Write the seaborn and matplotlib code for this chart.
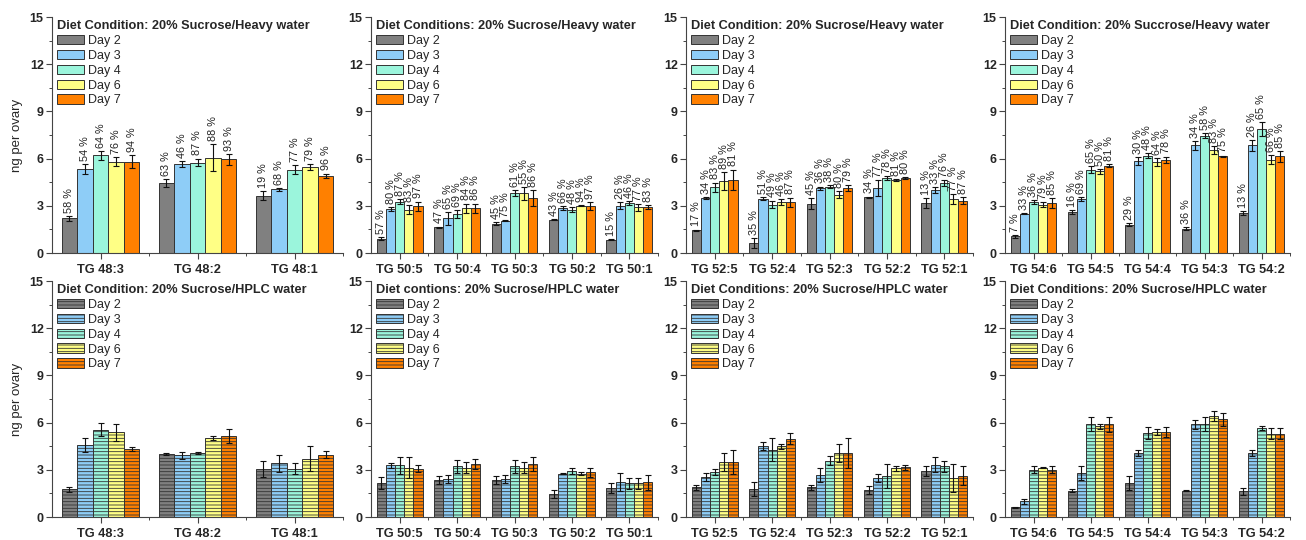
import numpy as np
import pandas as pd
import seaborn as sns
import matplotlib.pyplot as plt
from matplotlib.ticker import MultipleLocator, FixedLocator

days = ['Day 2', 'Day 3', 'Day 4', 'Day 6', 'Day 7']
day_colors = ['#808080', '#8ecdf7', '#9bf5dc', '#ffff85', '#ff8000']

tg48 = ['TG 48:3', 'TG 48:2', 'TG 48:1']
tg50 = ['TG 50:5', 'TG 50:4', 'TG 50:3', 'TG 50:2', 'TG 50:1']
tg52 = ['TG 52:5', 'TG 52:4', 'TG 52:3', 'TG 52:2', 'TG 52:1']
tg54 = ['TG 54:6', 'TG 54:5', 'TG 54:4', 'TG 54:3', 'TG 54:2']

# heavy water: one row per lipid, one column per day
heavy48_mean = [[2.2, 5.35, 6.2, 5.8, 5.8], [4.45, 5.65, 5.75, 6.05, 5.95], [3.65, 4.05, 5.3, 5.45, 4.9]]
heavy48_err = [[0.15, 0.3, 0.3, 0.3, 0.4], [0.25, 0.2, 0.25, 0.85, 0.35], [0.3, 0.1, 0.3, 0.2, 0.15]]
heavy48_pct = [[58, 54, 64, 76, 94], [63, 46, 87, 88, 93], [19, 68, 77, 79, 96]]

heavy50_mean = [[0.9, 2.8, 3.27, 2.76, 2.97], [1.63, 2.2, 2.48, 2.84, 2.84], [1.85, 2.06, 3.8, 3.8, 3.5],
                [2.12, 2.86, 2.76, 3.01, 2.97], [0.85, 3.01, 3.18, 2.9, 2.9]]
heavy50_err = [[0.1, 0.1, 0.15, 0.3, 0.3], [0.05, 0.4, 0.25, 0.3, 0.3], [0.1, 0.03, 0.2, 0.4, 0.5],
               [0.03, 0.1, 0.15, 0.05, 0.25], [0.03, 0.2, 0.1, 0.2, 0.12]]
heavy50_pct = [[57, 80, 87, 83, 97], [47, 65, 69, 84, 86], [45, 75, 61, 55, 86], [43, 66, 48, 94, 97],
               [15, 26, 46, 77, 83]]

heavy52_mean = [[1.44, 3.5, 4.18, 4.58, 4.65], [0.64, 3.44, 3.08, 3.22, 3.22], [3.12, 4.12, 4.22, 3.71, 4.14],
                [3.54, 4.14, 4.77, 4.65, 4.77], [3.18, 4.01, 4.43, 3.42, 3.33]]
heavy52_err = [[0.05, 0.05, 0.3, 0.55, 0.65], [0.3, 0.1, 0.25, 0.2, 0.3], [0.35, 0.1, 0.1, 0.2, 0.2],
               [0.05, 0.5, 0.1, 0.05, 0.08], [0.3, 0.2, 0.2, 0.3, 0.2]]
heavy52_pct = [[17, 34, 83, 89, 81], [35, 51, 49, 46, 87], [45, 36, 38, 80, 79], [34, 77, 78, 81, 80],
               [13, 33, 76, 77, 87]]

heavy54_mean = [[1.06, 2.5, 3.24, 3.07, 3.18], [2.6, 3.43, 5.3, 5.19, 5.55], [1.8, 5.83, 6.19, 5.78, 5.93],
                [1.55, 6.84, 7.46, 6.57, 6.14], [2.54, 6.84, 7.88, 5.93, 6.14]]
heavy54_err = [[0.1, 0.05, 0.15, 0.15, 0.3], [0.15, 0.15, 0.2, 0.15, 0.1], [0.1, 0.25, 0.15, 0.25, 0.2],
               [0.1, 0.3, 0.15, 0.25, 0.05], [0.15, 0.35, 0.45, 0.3, 0.35]]
heavy54_pct = [[7, 33, 36, 79, 85], [16, 69, 65, 50, 81], [29, 30, 48, 64, 78], [36, 34, 58, 83, 75],
               [13, 26, 65, 66, 85]]

# HPLC water
hplc48_mean = [[1.75, 4.56, 5.56, 5.39, 4.33], [3.99, 3.91, 4.08, 5.03, 5.13], [3.06, 3.42, 3.06, 3.7, 3.97]]
hplc48_err = [[0.15, 0.45, 0.4, 0.55, 0.15], [0.07, 0.2, 0.06, 0.15, 0.45], [0.5, 0.55, 0.35, 0.8, 0.2]]

hplc50_mean = [[2.16, 3.29, 3.29, 3.14, 3.08], [2.33, 2.44, 3.22, 3.12, 3.37], [2.33, 2.44, 3.22, 3.12, 3.37],
               [1.46, 2.76, 2.91, 2.76, 2.84], [1.85, 2.23, 2.16, 2.16, 2.2]]
hplc50_err = [[0.4, 0.15, 0.55, 0.65, 0.2], [0.25, 0.25, 0.4, 0.35, 0.3], [0.25, 0.25, 0.4, 0.35, 0.45],
              [0.25, 0.03, 0.2, 0.1, 0.3], [0.3, 0.55, 0.35, 0.35, 0.5]]

hplc52_mean = [[1.89, 2.52, 2.86, 3.5, 3.48], [1.78, 4.5, 4.28, 4.5, 4.96], [1.89, 2.69, 3.58, 4.07, 4.05],
               [1.72, 2.48, 2.59, 3.1, 3.16], [2.91, 3.33, 3.22, 2.48, 2.63]]
hplc52_err = [[0.15, 0.25, 0.2, 0.55, 0.75], [0.45, 0.25, 0.75, 0.15, 0.35], [0.15, 0.45, 0.3, 0.55, 0.95],
              [0.25, 0.25, 0.75, 0.15, 0.15], [0.3, 0.5, 0.35, 0.9, 0.6]]

hplc54_mean = [[0.62, 1.0, 3.01, 3.14, 3.01], [1.68, 2.8, 5.92, 5.77, 5.88], [2.16, 4.07, 5.35, 5.41, 5.41],
               [1.68, 5.88, 5.92, 6.41, 6.2], [1.63, 4.07, 5.66, 5.3, 5.3]]
hplc54_err = [[0.03, 0.15, 0.2, 0.05, 0.2], [0.07, 0.45, 0.45, 0.15, 0.5], [0.45, 0.2, 0.4, 0.2, 0.3],
              [0.05, 0.3, 0.45, 0.3, 0.4], [0.2, 0.2, 0.15, 0.35, 0.35]]

titles_heavy = ['Diet Condition: 20% Sucrose/Heavy water', 'Diet Conditions: 20% Sucrose/Heavy water',
                'Diet Condition: 20% Sucrose/Heavy water', 'Diet Condition: 20% Succrose/Heavy water']
titles_hplc = ['Diet Condition: 20% Sucrose/HPLC water', 'Diet contions: 20% Sucrose/HPLC water',
               'Diet Conditions: 20% Sucrose/HPLC water', 'Diet Conditions: 20% Sucrose/HPLC water']

sns.set_style('ticks')
plt.rcParams['font.family'] = ['Liberation Sans', 'DejaVu Sans']
plt.rcParams['hatch.linewidth'] = 0.6

EDGE = '#333333'


def draw_panel(ax, lipids, mean, err, pct, title, hatched, ylabel):
    rows = [(lip, d, mean[i][j]) for i, lip in enumerate(lipids) for j, d in enumerate(days)]
    df = pd.DataFrame(rows, columns=['lipid', 'day', 'ng'])
    sns.barplot(data=df, x='lipid', y='ng', hue='day', order=lipids, hue_order=days,
                palette=day_colors, saturation=1, errorbar=None, width=0.8,
                edgecolor=EDGE, linewidth=0.7, ax=ax)
    bars = list(ax.containers[:len(days)])
    for j, cont in enumerate(bars):
        for bar in cont:
            i = int(round(bar.get_x() + bar.get_width() / 2))
            x = bar.get_x() + bar.get_width() / 2
            y = bar.get_height()
            e = err[i][j]
            if hatched:
                bar.set_hatch('-----')
            ax.errorbar(x, y, yerr=e, fmt='none', ecolor='#111111', elinewidth=0.8,
                        capsize=2.4, capthick=0.8)
            if pct is not None:
                ax.text(x, y + e + 0.2, f'{pct[i][j]} %', rotation=90, ha='center',
                        va='bottom', fontsize=7.8, color='#222222')
    if ax.get_legend() is not None:
        ax.get_legend().remove()
    ax.legend(bars, days, title=title, loc='upper left', bbox_to_anchor=(0.005, 1.0),
              frameon=False, alignment='left', fontsize=9,
              title_fontproperties={'weight': 'bold', 'size': 9.2},
              handlelength=2.2, handleheight=0.8, labelspacing=0.22,
              handletextpad=0.3, borderpad=0.15, borderaxespad=0.1)

    n = len(lipids)
    ax.set_xlim(-0.5, n - 0.5)
    ax.set_ylim(0, 15)
    ax.set_yticks(range(0, 16, 3))
    ax.yaxis.set_minor_locator(MultipleLocator(1.5))
    ax.set_xticks(range(n))
    ax.set_xticklabels(lipids)
    ax.xaxis.set_minor_locator(FixedLocator(np.arange(0.5, n, 1)))
    ax.tick_params(axis='both', which='major', direction='out', length=4, width=0.8,
                   labelsize=9, color='#444444', pad=2)
    ax.tick_params(axis='x', which='major', labelsize=9.2, pad=4)
    ax.tick_params(axis='both', which='minor', direction='out', length=2.5, width=0.7,
                   color='#444444')
    for lab in ax.get_xticklabels() + ax.get_yticklabels():
        lab.set_fontweight('bold')
    ax.set_xlabel('')
    ax.set_ylabel('ng per ovary' if ylabel else '', fontsize=9.5, labelpad=5)
    sns.despine(ax=ax)
    for s in ['left', 'bottom']:
        ax.spines[s].set_color('#444444')
        ax.spines[s].set_linewidth(0.8)


fig = plt.figure(figsize=(13.06, 5.4), dpi=100)
W, H = 1306, 540
lefts = [52, 371, 686, 1005]
rights = [343, 658, 973, 1290]
row_bottoms = [253, 517]
row_height = 236

heavy = [(tg48, heavy48_mean, heavy48_err, heavy48_pct), (tg50, heavy50_mean, heavy50_err, heavy50_pct),
         (tg52, heavy52_mean, heavy52_err, heavy52_pct), (tg54, heavy54_mean, heavy54_err, heavy54_pct)]
hplc = [(tg48, hplc48_mean, hplc48_err, None), (tg50, hplc50_mean, hplc50_err, None),
        (tg52, hplc52_mean, hplc52_err, None), (tg54, hplc54_mean, hplc54_err, None)]

for r, (panels, titles, hatched) in enumerate([(heavy, titles_heavy, False), (hplc, titles_hplc, True)]):
    for c in range(4):
        l, rt = lefts[c], rights[c]
        ax = fig.add_axes([l / W, 1 - row_bottoms[r] / H, (rt - l) / W, row_height / H])
        lipids, mean, err, pct = panels[c]
        draw_panel(ax, lipids, mean, err, pct, titles[c], hatched, c == 0)

fig.savefig('out.png', dpi=100)
